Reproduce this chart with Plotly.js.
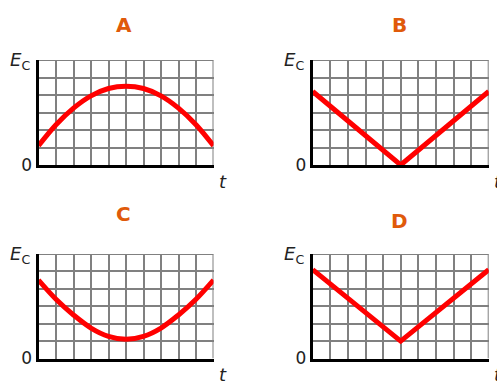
<!DOCTYPE html>
<html><head><meta charset="utf-8">
<script src="https://cdn.plot.ly/plotly-3.0.1.min.js"></script>
<style>html,body{margin:0;padding:0;background:#fff;}#chart{width:497px;height:381px;}</style>
</head><body><div id="chart"></div>
<script>
// Data
const panelTitles = ['A', 'B', 'C', 'D'];
const tA = [0, 1, 2, 3, 4, 5, 6, 7, 8, 9, 10];
const ecA = [1.1, 2.3, 3.25, 3.95, 4.37, 4.5, 4.37, 3.95, 3.25, 2.3, 1.1];
const tB = [0, 5, 10];
const ecB = [4.2, 0, 4.2];
const tC = [0, 1, 2, 3, 4, 5, 6, 7, 8, 9, 10];
const ecC = [4.5, 3.4, 2.5, 1.75, 1.27, 1.1, 1.27, 1.75, 2.5, 3.4, 4.5];
const tD = [0, 5, 10];
const ecD = [5.1, 1.0, 5.1];
const yTickVals = [0, 1, 2, 3, 4, 5, 6];
const yTickText = ['0', ' ', ' ', ' ', ' ', ' ', ' '];
const yLabel = '<i>E</i><sub>C</sub>';
const xLabel = '<i>t</i>';

const W = 497, H = 381;
const boxes = [
  {l: 38.5, r: 213.5, t: 60, b: 165, tx: 123.7, ty: 24.5},
  {l: 312.7, r: 488.7, t: 60, b: 165, tx: 399.5, ty: 24.5},
  {l: 38.5, r: 213.5, t: 254, b: 358.5, tx: 123.7, ty: 213.5},
  {l: 312.7, r: 488.7, t: 254, b: 358.5, tx: 399.5, ty: 221}
];
const series = [[tA, ecA, 'spline'], [tB, ecB, 'linear'], [tC, ecC, 'spline'], [tD, ecD, 'linear']];

const font = 'DejaVu Sans, Verdana, sans-serif';
const traces = [];
const layout = {
  width: W, height: H, margin: {l: 0, r: 0, t: 0, b: 0},
  paper_bgcolor: '#fff', plot_bgcolor: '#fff', showlegend: false,
  font: {family: font, color: '#222'},
  annotations: [], shapes: []
};
boxes.forEach((b, i) => {
  const n = i + 1;
  const xa = 'xaxis' + (n === 1 ? '' : n), ya = 'yaxis' + (n === 1 ? '' : n);
  const xr = 'x' + (n === 1 ? '' : n), yr = 'y' + (n === 1 ? '' : n);
  layout[xa] = {
    domain: [b.l / W, b.r / W], range: [0, 10], anchor: yr,
    dtick: 1, tick0: 0, showgrid: true, gridcolor: '#808080', gridwidth: 2,
    showline: true, linecolor: '#000', linewidth: 3, zeroline: false,
    showticklabels: false, ticks: '', fixedrange: true
  };
  layout[ya] = {
    domain: [1 - b.b / H, 1 - b.t / H], range: [0, 6], anchor: xr,
    showgrid: true, gridcolor: '#808080', gridwidth: 2,
    showline: true, linecolor: '#000', linewidth: 3, zeroline: false,
    tickmode: 'array', tickvals: yTickVals, ticktext: yTickText,
    ticks: '', tickfont: {size: 17, color: '#222', family: font}, fixedrange: true
  };
  // grey top/right borders of grid
  layout.shapes.push({type: 'line', xref: xr, yref: yr, x0: 0, x1: 10, y0: 6, y1: 6, line: {color: '#808080', width: 2}, layer: 'below'});
  layout.shapes.push({type: 'line', xref: xr, yref: yr, x0: 10, x1: 10, y0: 0, y1: 6, line: {color: '#808080', width: 2}, layer: 'below'});
  const s = series[i];
  traces.push({x: s[0], y: s[1], xaxis: xr, yaxis: yr, type: 'scatter', mode: 'lines',
    line: {color: '#ff0000', width: 5, shape: s[2], smoothing: 1}, cliponaxis: false, hoverinfo: 'skip'});
  layout.annotations.push({text: panelTitles[i], xref: 'paper', yref: 'paper', x: b.tx / W, y: 1 - b.ty / H,
    xanchor: 'center', yanchor: 'middle', showarrow: false, font: {size: 20, color: '#e05a0a', family: 'DejaVu Sans', weight: 'bold'}});
  layout.annotations.push({text: yLabel, xref: 'paper', yref: 'paper', x: (b.l - 7) / W, y: 1 - (b.t + 1) / H,
    xanchor: 'right', yanchor: 'middle', showarrow: false, font: {size: 18, color: '#222', family: font}});
  layout.annotations.push({text: xLabel, xref: 'paper', yref: 'paper', x: (b.r + 3) / W, y: 1 - (b.b + 16) / H,
    xanchor: 'left', yanchor: 'middle', showarrow: false, font: {size: 18, color: '#222', family: font}});
});
Plotly.newPlot('chart', traces, layout, {staticPlot: true, displayModeBar: false});
</script></body></html>
